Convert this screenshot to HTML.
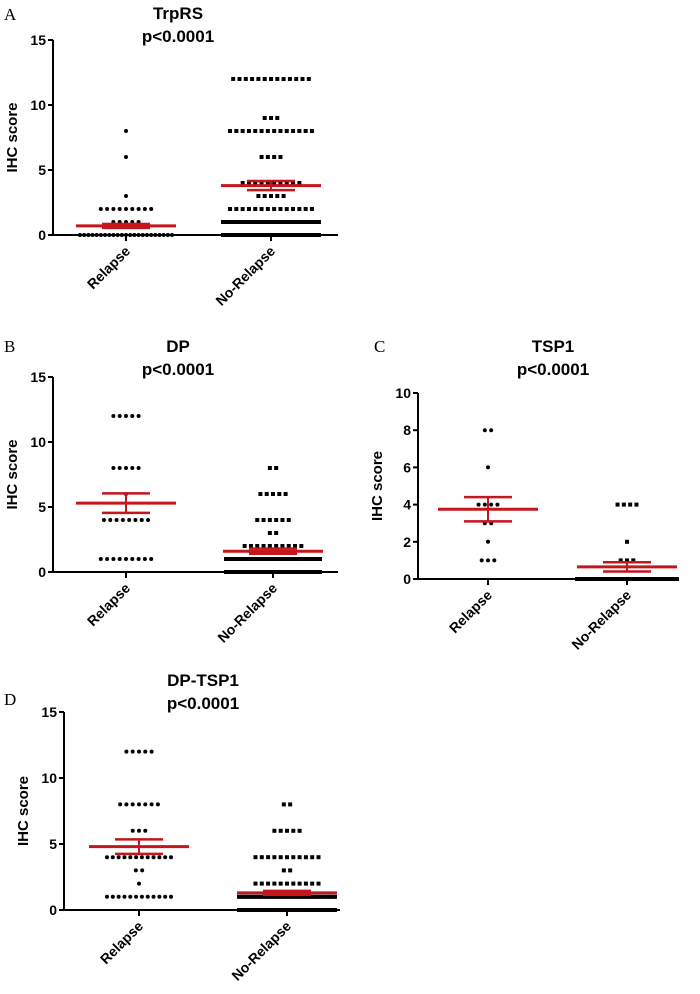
<!DOCTYPE html>
<html><head><meta charset="utf-8">
<style>
html,body{margin:0;padding:0;background:#fff;}
svg{display:block;font-family:"Liberation Sans",Arial,sans-serif;}
.t{font-weight:bold;fill:#000;}
.letter{font-family:"Liberation Serif",serif;font-size:17px;fill:#000;}
</style></head>
<body>
<svg id="chart" width="700" height="994" viewBox="0 0 700 994"></svg>
<script>
// Data: [score, number of patients] per group
const groups = ["Relapse", "No-Relapse"];
const trpRelapse = [[8,1],[6,1],[3,1],[2,9],[1,5],[0,23]];
const trpNoRelapse = [[12,13],[9,3],[8,14],[6,4],[4,10],[3,5],[2,14],[1,30],[0,25]];
const trpMean = [0.7, 3.8];
const trpSem = [0.15, 0.35];
const dpRelapse = [[12,5],[8,5],[6,1],[4,8],[1,9]];
const dpNoRelapse = [[8,2],[6,5],[4,6],[3,2],[2,10],[1,30],[0,40]];
const dpMean = [5.3, 1.6];
const dpSem = [0.75, 0.2];
const tspRelapse = [[8,2],[6,1],[4,4],[3,2],[2,1],[1,3]];
const tspNoRelapse = [[4,4],[2,1],[1,3],[0,40]];
const tspMean = [3.75, 0.65];
const tspSem = [0.65, 0.25];
const dtRelapse = [[12,5],[8,7],[6,3],[4,12],[3,2],[2,1],[1,12]];
const dtNoRelapse = [[8,2],[6,5],[4,11],[3,2],[2,11],[1,40],[0,50]];
const dtMean = [4.8, 1.3];
const dtSem = [0.55, 0.15];
const ticks15 = [0,5,10,15];
const ticks10 = [0,2,4,6,8,10];

const NS = "http://www.w3.org/2000/svg";
const svg = document.getElementById("chart");
function mk(tag, attrs, parent){
  const e = document.createElementNS(NS, tag);
  for (const k in attrs) e.setAttribute(k, attrs[k]);
  (parent||svg).appendChild(e);
  return e;
}

const panels = [
  {id:"trprs", letter:"A", lx:4, ly:20, title:"TrpRS", tx:178, ty:19, ax:53, y0:235, yTop:40, ymax:15, ticks:ticks15, xEnd:338, cx:[126,271], maxW:[92,96], data:[trpRelapse,trpNoRelapse], mean:trpMean, sem:trpSem},
  {id:"dp", letter:"B", lx:4, ly:352, title:"DP", tx:178, ty:352, ax:53, y0:572, yTop:377, ymax:15, ticks:ticks15, xEnd:338, cx:[126,273], maxW:[56,94], data:[dpRelapse,dpNoRelapse], mean:dpMean, sem:dpSem},
  {id:"tsp1", letter:"C", lx:374, ly:352, title:"TSP1", tx:553, ty:352, ax:418, y0:579, yTop:393, ymax:10, ticks:ticks10, xEnd:660, cx:[488,627], maxW:[26,100], data:[tspRelapse,tspNoRelapse], mean:tspMean, sem:tspSem},
  {id:"dp-tsp1", letter:"D", lx:4, ly:705, title:"DP-TSP1", tx:203, ty:686, ax:64, y0:910, yTop:712, ymax:15, ticks:ticks15, xEnd:340, cx:[139,287], maxW:[64,96], data:[dtRelapse,dtNoRelapse], mean:dtMean, sem:dtSem}
];

panels.forEach(p => {
  const g = mk("g", {});
  
  
  const y = v => p.y0 - v/p.ymax*(p.y0-p.yTop);

  const L = mk("text", {x:p.lx, y:p.ly, class:"letter"}, g); L.textContent = p.letter;
  
  
  const T1 = mk("text", {x:p.tx, y:p.ty, "text-anchor":"middle", class:"t", "font-size":"17"}, g); T1.textContent = p.title;
  
  
  const T2 = mk("text", {x:p.tx, y:p.ty+23, "text-anchor":"middle", class:"t", "font-size":"17"}, g); T2.textContent = "p<0.0001";
  
  

  const ya = mk("line", {x1:p.ax, y1:p.yTop, x2:p.ax, y2:p.y0, stroke:"#000", "stroke-width":2}, g);
  
  
  const xa = mk("line", {x1:p.ax-1, y1:p.y0, x2:p.xEnd, y2:p.y0, stroke:"#000", "stroke-width":2}, g);
  
  
  p.ticks.forEach(t => {
    mk("line", {x1:p.ax-5, y1:y(t), x2:p.ax, y2:y(t), stroke:"#000", "stroke-width":2}, g);
    const tl = mk("text", {x:p.ax-7, y:y(t)+5, "text-anchor":"end", class:"t", "font-size":"14"}, g);
    tl.textContent = t;
    
    
  });
  const yl = mk("text", {x:0, y:0, "text-anchor":"middle", class:"t", "font-size":"15",
    transform:`translate(${p.ax-36},${(p.y0+p.yTop)/2}) rotate(-90)`}, g);
  yl.textContent = "IHC score";
  
  

  groups.forEach((name, gi) => {
    const cx = p.cx[gi];
    mk("line", {x1:cx, y1:p.y0, x2:cx, y2:p.y0+6, stroke:"#000", "stroke-width":2}, g);
    const xl = mk("text", {x:0, y:0, "text-anchor":"end", class:"t", "font-size":"14",
      transform:`translate(${cx+5},${p.y0+17}) rotate(-45)`}, g);
    xl.textContent = name;
    
    

    p.data[gi].forEach(([v, n]) => {
      let sp = 6.3;
      if (n > 1 && (n-1)*sp > p.maxW[gi]) sp = p.maxW[gi]/(n-1);
      const x0 = cx - (n-1)*sp/2;
      for (let i = 0; i < n; i++) {
        let d;
        if (gi === 0) d = mk("circle", {cx:x0+i*sp, cy:y(v), r:2, fill:"#000"}, g);
        else d = mk("rect", {x:x0+i*sp-2, y:y(v)-2, width:4, height:4, fill:"#000"}, g);
        
        
      }
    });

    const m = p.mean[gi], s = p.sem[gi];
    const red = "#c4161c";
    const ml = mk("line", {x1:cx-50, y1:y(m), x2:cx+50, y2:y(m), stroke:red, "stroke-width":3}, g);
    
    
    const ev = mk("line", {x1:cx, y1:y(m+s), x2:cx, y2:y(m-s), stroke:red, "stroke-width":2}, g);
    
    
    [m+s, m-s].forEach(v => {
      const c = mk("line", {x1:cx-24, y1:y(v), x2:cx+24, y2:y(v), stroke:red, "stroke-width":2.5}, g);
      
      
    });
  });
});
</script>
</body></html>
